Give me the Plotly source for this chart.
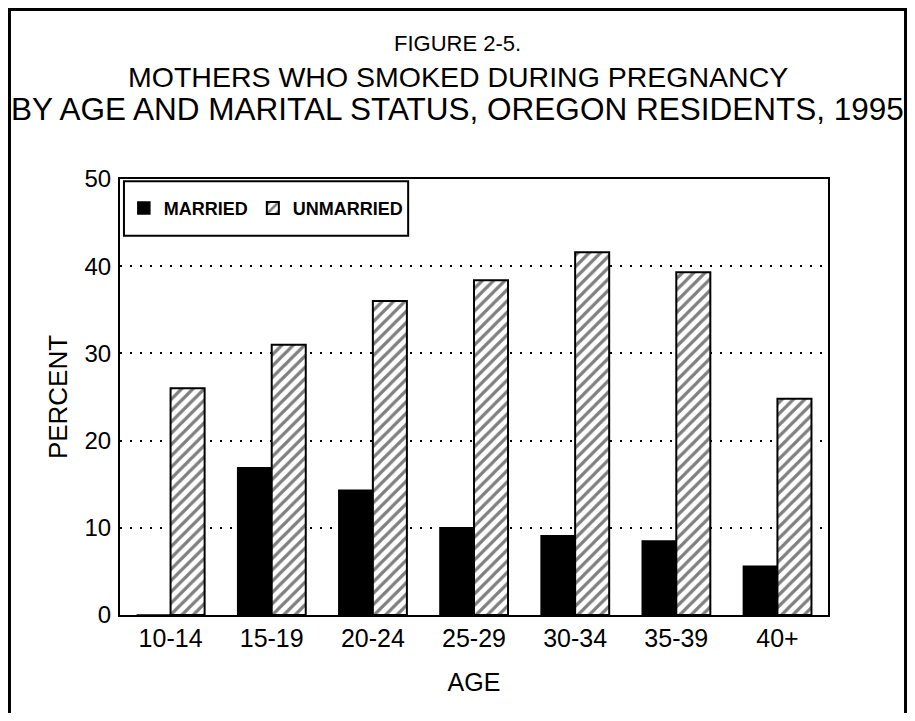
import plotly.graph_objects as go

# data
age_groups = ["10-14", "15-19", "20-24", "25-29", "30-34", "35-39", "40+"]
married = [0, 16.9, 14.3, 10.0, 9.1, 8.5, 5.6]
unmarried = [26.0, 31.0, 36.0, 38.4, 41.6, 39.3, 24.8]
y_ticks = [0, 10, 20, 30, 40, 50]

FONT = "Liberation Sans, Arial, Helvetica, sans-serif"

fig = go.Figure()

fig.add_trace(
    go.Bar(
        x=age_groups,
        y=married,
        name="MARRIED",
        marker=dict(color="black", line=dict(color="black", width=1.5)),
    )
)
fig.add_trace(
    go.Bar(
        x=age_groups,
        y=unmarried,
        name="UNMARRIED",
        marker=dict(
            color="white",
            line=dict(color="black", width=2),
            pattern=dict(shape="/", fgcolor="black", bgcolor="white", size=8, solidity=0.4),
        ),
    )
)

# title lines
titles = [
    ("FIGURE 2-5.", 22, 1.3108),
    ("MOTHERS WHO SMOKED DURING PREGNANCY", 28.5, 1.234),
    ("BY AGE AND MARITAL STATUS, OREGON RESIDENTS, 1995", 31.5, 1.1606),
]
for text, size, ypos in titles:
    fig.add_annotation(
        text=text,
        x=0.4767,
        y=ypos,
        xref="paper",
        yref="paper",
        showarrow=False,
        xanchor="center",
        yanchor="middle",
        font=dict(family=FONT, size=size, color="black"),
    )

# outer frame
fig.add_shape(
    type="rect",
    xref="paper",
    yref="paper",
    x0=-0.1561,
    x1=1.1095,
    y0=-0.26,
    y1=1.3888,
    line=dict(color="black", width=3),
    fillcolor="rgba(0,0,0,0)",
)

# legend frame
fig.add_shape(
    type="rect",
    xref="paper",
    yref="paper",
    x0=0.0056,
    x1=0.407,
    y0=0.870,
    y1=0.995,
    line=dict(color="black", width=2),
    fillcolor="white",
    layer="above",
)

fig.update_layout(
    width=899,
    height=705,
    margin=dict(l=112, r=79, t=171, b=98),
    paper_bgcolor="white",
    plot_bgcolor="white",
    barmode="group",
    bargap=0.327,
    bargroupgap=0,
    font=dict(family=FONT, color="black"),
    showlegend=True,
    legend=dict(
        orientation="h",
        x=0.206,
        y=0.933,
        xanchor="center",
        yanchor="middle",
        bgcolor="rgba(0,0,0,0)",
        borderwidth=0,
        font=dict(family=FONT, size=18, color="black", weight="bold"),
        itemclick=False,
        traceorder="normal",
    ),
)

fig.update_xaxes(
    showline=True,
    linecolor="black",
    linewidth=2,
    mirror=True,
    ticks="",
    tickfont=dict(family=FONT, size=25, color="black"),
    title=dict(text="AGE", font=dict(family=FONT, size=25, color="black"), standoff=22),
)
fig.update_yaxes(
    range=[0, 50],
    tickvals=y_ticks,
    showline=True,
    linecolor="black",
    linewidth=2,
    mirror=True,
    ticks="",
    ticklabelstandoff=2,
    zeroline=False,
    showgrid=True,
    gridcolor="black",
    gridwidth=2,
    griddash="2px,8px",
    tickfont=dict(family=FONT, size=24, color="black"),
    title=dict(text="PERCENT", font=dict(family=FONT, size=26, color="black"), standoff=9),
)

fig.write_html("out.html")
